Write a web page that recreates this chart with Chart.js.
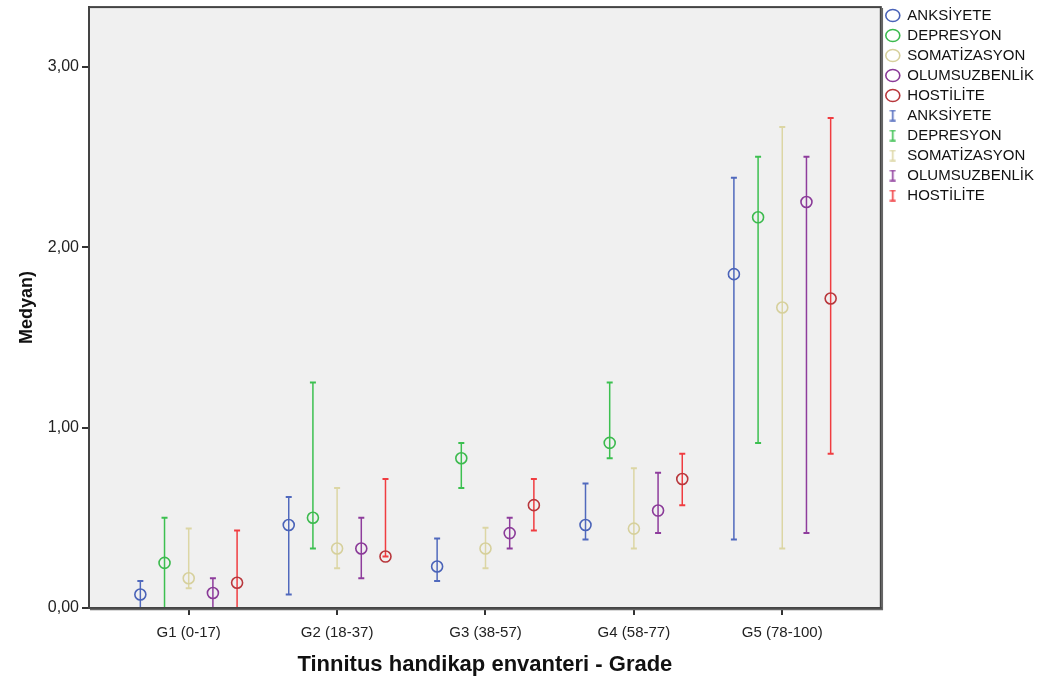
<!DOCTYPE html>
<html>
<head>
<meta charset="utf-8">
<script src="https://cdn.jsdelivr.net/npm/chart.js@4/dist/chart.umd.min.js"></script>
<style>
  html, body { margin: 0; padding: 0; background: #fff; }
  #wrap { width: 1044px; height: 684px; }
</style>
</head>
<body>
<div id="wrap"><canvas id="chart"></canvas></div>
<script>
// grades on the x axis
const categories = ['G1 (0-17)', 'G2 (18-37)', 'G3 (38-57)', 'G4 (58-77)', 'G5 (78-100)'];
const seriesNames = ['ANKSİYETE', 'DEPRESYON', 'SOMATİZASYON', 'OLUMSUZBENLİK', 'HOSTİLİTE'];
const yTicks = [0, 1, 2, 3];

// median and range per grade
const anksiyeteMed  = [0.075, 0.46, 0.23, 0.46, 1.85];
const anksiyeteLow  = [0, 0.075, 0.15, 0.38, 0.38];
const anksiyeteHigh = [0.15, 0.615, 0.385, 0.69, 2.385];

const depresyonMed  = [0.25, 0.50, 0.83, 0.915, 2.165];
const depresyonLow  = [0, 0.33, 0.665, 0.83, 0.915];
const depresyonHigh = [0.50, 1.25, 0.915, 1.25, 2.50];

const somatizasyonMed  = [0.165, 0.33, 0.33, 0.44, 1.665];
const somatizasyonLow  = [0.11, 0.22, 0.22, 0.33, 0.33];
const somatizasyonHigh = [0.44, 0.665, 0.445, 0.775, 2.665];

const olumsuzMed  = [0.083, 0.33, 0.415, 0.54, 2.25];
const olumsuzLow  = [0, 0.165, 0.33, 0.415, 0.415];
const olumsuzHigh = [0.165, 0.50, 0.50, 0.75, 2.50];

const hostiliteMed  = [0.14, 0.285, 0.57, 0.715, 1.715];
const hostiliteLow  = [0, 0.285, 0.43, 0.57, 0.855];
const hostiliteHigh = [0.43, 0.715, 0.715, 0.855, 2.715];

const meds  = [anksiyeteMed, depresyonMed, somatizasyonMed, olumsuzMed, hostiliteMed];
const lows  = [anksiyeteLow, depresyonLow, somatizasyonLow, olumsuzLow, hostiliteLow];
const highs = [anksiyeteHigh, depresyonHigh, somatizasyonHigh, olumsuzHigh, hostiliteHigh];

const circleColors = ['#4a63b8', '#3cba4e', '#d6d09c', '#8a3a98', '#b8373c'];
const barColors    = ['#5069bd', '#3cc050', '#dcd6a4', '#8e3c9c', '#f03c40'];
const shift = 0.163;
const FONT = 'Liberation Sans, Arial, sans-serif';

var makeIcon = (color) => {
  const c = document.createElement('canvas');
  c.width = 7; c.height = 12;
  const g = c.getContext('2d');
  g.strokeStyle = color;
  g.lineWidth = 1.6;
  g.beginPath();
  g.moveTo(0.5, 1); g.lineTo(6.5, 1);
  g.moveTo(3.5, 1); g.lineTo(3.5, 11);
  g.moveTo(0.5, 11); g.lineTo(6.5, 11);
  g.stroke();
  return c;
}

var datasets = [];
for (let s = 0; s < 5; s++) {
  datasets.push({
    label: seriesNames[s],
    data: meds[s].map((v, i) => ({ x: i + (s - 2) * shift, y: v })),
    showLine: false,
    pointStyle: 'circle',
    pointRadius: 5.5,
    pointHoverRadius: 5.5,
    borderWidth: 1.6,
    borderColor: circleColors[s],
    backgroundColor: 'rgba(0,0,0,0)'
  });
}
for (let s = 0; s < 5; s++) {
  const pts = [];
  for (let i = 0; i < categories.length; i++) {
    const x = i + (s - 2) * shift;
    pts.push({ x: x, y: lows[s][i] }, { x: x, y: highs[s][i] }, { x: x, y: null });
  }
  datasets.push({
    label: seriesNames[s],
    data: pts,
    showLine: true,
    spanGaps: false,
    pointStyle: 'line',
    pointRadius: 3,
    pointHoverRadius: 3,
    borderWidth: 1.5,
    pointBorderWidth: 2,
    borderColor: barColors[s],
    backgroundColor: barColors[s]
  });
}

const icons = barColors.map(makeIcon);

const framePlugin = {
  id: 'frame',
  beforeDraw(chart) {
    const a = chart.chartArea, ctx = chart.ctx;
    ctx.save();
    ctx.fillStyle = '#f0f0f0';
    ctx.fillRect(a.left, a.top, a.right - a.left, a.bottom - a.top);
    ctx.restore();
  },
  afterDraw(chart) {
    const a = chart.chartArea, ctx = chart.ctx;
    ctx.save();
    ctx.strokeStyle = '#444';
    ctx.lineWidth = 2;
    ctx.strokeRect(a.left, a.top, a.right - a.left, a.bottom - a.top);
    ctx.strokeStyle = '#666';
    ctx.lineWidth = 1.5;
    ctx.beginPath();
    ctx.moveTo(a.right + 1.5, a.top + 1);
    ctx.lineTo(a.right + 1.5, a.bottom + 1.5);
    ctx.lineTo(a.left + 1, a.bottom + 1.5);
    ctx.stroke();
    ctx.restore();
  }
};

var chart = new Chart(document.getElementById('chart'), {
  type: 'scatter',
  data: { datasets: datasets },
  plugins: [framePlugin],
  options: {
    responsive: true,
    maintainAspectRatio: false,
    animation: false,
    layout: { padding: { top: 3, right: 0, bottom: 0, left: 0 } },
    plugins: {
      tooltip: { enabled: false },
      legend: {
        position: 'right',
        align: 'start',
        labels: {
          color: '#111',
          font: { family: FONT, size: 15 },
          usePointStyle: true,
          boxHeight: 8.5,
          pointStyleWidth: 14,
          padding: 5,
          generateLabels: (ch) => ch.data.datasets.map((d, i) => ({
            text: d.label,
            datasetIndex: i,
            fontColor: '#111',
            pointStyle: i < 5 ? 'circle' : icons[i - 5],
            fillStyle: 'rgba(0,0,0,0)',
            strokeStyle: i < 5 ? circleColors[i] : barColors[i - 5],
            lineWidth: 1.6,
            hidden: false
          }))
        }
      }
    },
    scales: {
      x: {
        type: 'linear',
        min: -0.672,
        max: 4.664,
        afterBuildTicks: (axis) => { axis.ticks = categories.map((c, i) => ({ value: i })); },
        afterFit: (axis) => { axis.height = 76; axis.paddingLeft = 0; axis.paddingRight = 0; },
        ticks: {
          color: '#222',
          font: { family: FONT, size: 15 },
          padding: 9,
          callback: (v) => categories[v]
        },
        grid: { drawOnChartArea: false, drawTicks: true, tickLength: 7, color: '#333', lineWidth: 2 },
        border: { display: true, color: '#333', width: 2 },
        title: {
          display: true,
          text: 'Tinnitus handikap envanteri - Grade',
          color: '#111',
          font: { family: FONT, size: 22, weight: 'bold' },
          padding: { top: 0, bottom: 6 }
        }
      },
      y: {
        type: 'linear',
        min: 0,
        max: 3.33,
        afterBuildTicks: (axis) => { axis.ticks = yTicks.map((v) => ({ value: v })); },
        afterFit: (axis) => { axis.width = 89; axis.paddingTop = 0; axis.paddingBottom = 0; },
        ticks: {
          color: '#222',
          font: { family: FONT, size: 16 },
          padding: 3,
          callback: (v) => v.toFixed(2).replace('.', ',')
        },
        grid: { drawOnChartArea: false, drawTicks: true, tickLength: 7, color: '#333', lineWidth: 2 },
        border: { display: true, color: '#333', width: 2 },
        title: {
          display: true,
          text: 'Medyan)',
          color: '#111',
          font: { family: FONT, size: 18, weight: 'bold' },
          padding: { top: 16, bottom: 0 }
        }
      }
    }
  }
});
</script>
</body>
</html>
